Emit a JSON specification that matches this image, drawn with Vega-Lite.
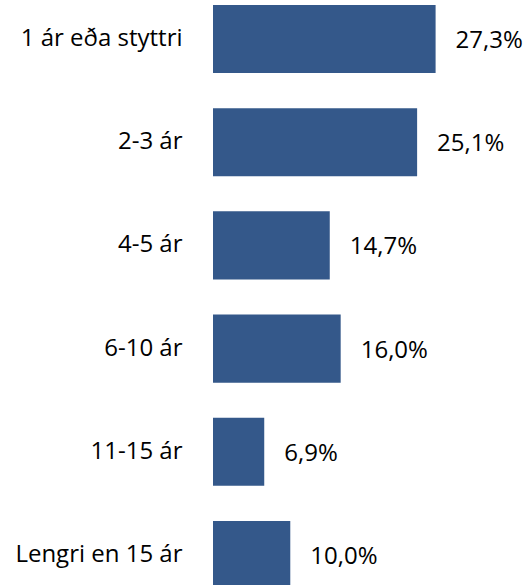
{
  "$schema": "https://vega.github.io/schema/vega-lite/v6.json",
  "autosize": "none",
  "width": 315,
  "height": 584,
  "padding": {"left": 213, "top": 5, "right": 0, "bottom": 0},
  "background": "white",
  "config": {"view": {"stroke": null}},
  "data": {
    "values": [
      {"category": "1 ár eða styttri", "value": 27.3, "label": "27,3%"},
      {"category": "2-3 ár", "value": 25.1, "label": "25,1%"},
      {"category": "4-5 ár", "value": 14.7, "label": "14,7%"},
      {"category": "6-10 ár", "value": 16.0, "label": "16,0%"},
      {"category": "11-15 ár", "value": 6.9, "label": "6,9%"},
      {"category": "Lengri en 15 ár", "value": 10.0, "label": "10,0%"}
    ]
  },
  "encoding": {
    "y": {
      "field": "category",
      "type": "nominal",
      "sort": null,
      "scale": {"paddingInner": 0.34, "paddingOuter": 0},
      "axis": {
        "title": null,
        "domain": false,
        "ticks": false,
        "grid": false,
        "labelFont": "Open Sans",
        "labelFontSize": 24,
        "labelColor": "#000000",
        "labelPadding": 31,
        "labelLimit": 300
      }
    },
    "x": {
      "field": "value",
      "type": "quantitative",
      "scale": {"domain": [0.8, 38.3], "zero": false, "nice": false},
      "axis": null
    }
  },
  "layer": [
    {"mark": {"type": "bar", "color": "#34588A", "clip": true}},
    {
      "mark": {
        "type": "text",
        "align": "left",
        "baseline": "middle",
        "dx": 20,
        "dy": 2,
        "font": "Open Sans",
        "fontSize": 24,
        "color": "#000000"
      },
      "encoding": {"text": {"field": "label"}}
    }
  ]
}
